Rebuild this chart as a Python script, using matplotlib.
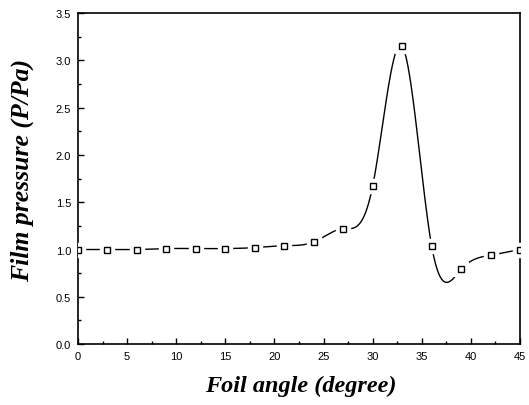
import numpy as np
import matplotlib
matplotlib.use("Agg")
import matplotlib.pyplot as plt
from matplotlib.ticker import MultipleLocator

# foil angle (degree) and film pressure P/Pa
angle = [0, 3, 6, 9, 12, 15, 18, 21, 24, 27, 30, 33, 36, 39, 42, 45]
pressure = [1.00, 1.00, 1.00, 1.01, 1.01, 1.01, 1.02, 1.04, 1.08, 1.22,
            1.67, 3.15, 1.04, 0.79, 0.94, 1.00]


def natural_spline(x, y, xs):
    # plain natural cubic spline, just for the smooth connecting line
    x = np.asarray(x, float)
    y = np.asarray(y, float)
    n = len(x)
    h = np.diff(x)
    A = np.zeros((n, n))
    b = np.zeros(n)
    A[0, 0] = A[-1, -1] = 1
    for i in range(1, n - 1):
        A[i, i - 1] = h[i - 1]
        A[i, i] = 2 * (h[i - 1] + h[i])
        A[i, i + 1] = h[i]
        b[i] = 3 * ((y[i + 1] - y[i]) / h[i] - (y[i] - y[i - 1]) / h[i - 1])
    c = np.linalg.solve(A, b)
    idx = np.clip(np.searchsorted(x, xs) - 1, 0, n - 2)
    dx = xs - x[idx]
    hi = h[idx]
    bb = (y[idx + 1] - y[idx]) / hi - hi * (2 * c[idx] + c[idx + 1]) / 3
    d = (c[idx + 1] - c[idx]) / (3 * hi)
    return y[idx] + bb * dx + c[idx] * dx ** 2 + d * dx ** 3


fig = plt.figure(figsize=(5.29, 4.06), dpi=100)
ax = fig.add_axes([0.1474, 0.150, 0.8356, 0.8155])

xs = np.linspace(angle[0], angle[-1], 600)
ax.plot(xs, natural_spline(angle, pressure, xs), color="black", lw=1.0, zorder=2)
# white squares leave the small gaps round each marker
ax.plot(angle, pressure, ls="none", marker="s", ms=10, mfc="white", mec="white", zorder=3)
ax.plot(angle, pressure, ls="none", marker="s", ms=4.5, mfc="white", mec="black",
        mew=1.0, zorder=4)

ax.set_xlim(0, 45)
ax.set_ylim(0, 3.5)
ax.xaxis.set_major_locator(MultipleLocator(5))
ax.xaxis.set_minor_locator(MultipleLocator(2.5))
ax.yaxis.set_major_locator(MultipleLocator(0.5))
ax.yaxis.set_minor_locator(MultipleLocator(0.25))
ax.yaxis.set_major_formatter(matplotlib.ticker.FormatStrFormatter("%.1f"))
ax.tick_params(which="both", direction="in", top=False, right=False,
               labelsize=8, width=1.0)
ax.tick_params(which="major", length=4, pad=5)
ax.tick_params(which="minor", length=2)
for lab in ax.get_xticklabels() + ax.get_yticklabels():
    lab.set_family("Liberation Sans")
for s in ax.spines.values():
    s.set_linewidth(1.2)

ax.set_xlabel("Foil angle (degree)", family="Liberation Serif", style="italic",
              weight="bold", fontsize=17.5, va="center")
ax.set_ylabel("Film pressure (P/Pa)", family="Liberation Serif", style="italic",
              weight="bold", fontsize=18.5, va="center")
ax.xaxis.set_label_coords(0.505, -0.124)
ax.yaxis.set_label_coords(-0.127, 0.529)

fig.savefig("out.png", dpi=100)
